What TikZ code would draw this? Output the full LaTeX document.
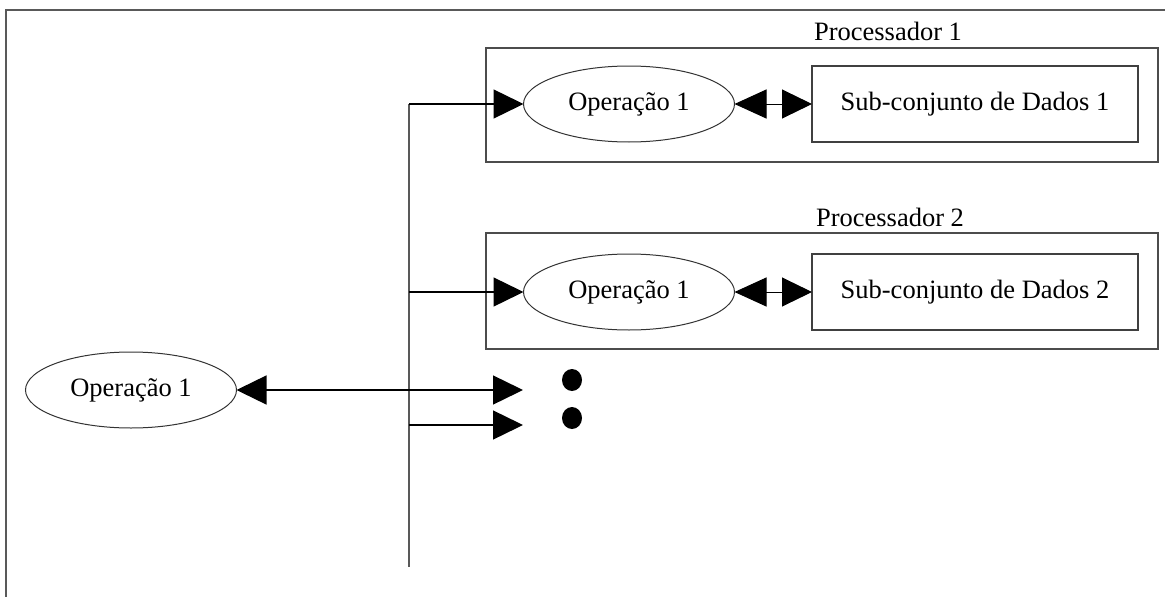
\documentclass[tikz,border=0pt]{standalone}
\usepackage{fontspec}
\setmainfont{Liberation Serif}
\usetikzlibrary{arrows.meta,shapes.geometric}

\tikzset{
  txt/.style={font=\fontsize{26.5}{30}\selectfont, text=black},
  opnode/.style={txt, draw=black!80, line width=1pt, ellipse, inner sep=0pt, outer sep=0pt,
                 minimum width=211pt, minimum height=76pt},
  databox/.style={txt, draw=black!75, line width=1.2pt, rectangle, inner sep=0pt, outer sep=0pt,
                  minimum width=326pt, minimum height=76pt},
  procbox/.style={draw=black!70, line width=1.2pt, rectangle, inner sep=0pt, outer sep=0pt,
                  minimum width=672pt},
  bus/.style={draw=black!65, line width=1.3pt},
  link/.style={draw=black, line width=1.4pt},
  tip/.style={-{Triangle[length=30pt,width=29pt]}},
  biarrow/.style={{Triangle[length=32pt,width=29pt]}-{Triangle[length=30pt,width=29pt]}},
  frameline/.style={draw=black!65, line width=1.3pt},
  dot/.style={fill=black, ellipse, inner sep=0pt, minimum width=20pt, minimum height=22pt}
}

\begin{document}
\begin{tikzpicture}[x=1pt,y=-1pt]
  \useasboundingbox (0,0) rectangle (1165,597);

  % outer frame (left and top edges)
  \draw[frameline] (6,597) -- (6,10) -- (1165,10);

  % processor enclosures
  \node[procbox, minimum height=114pt] (p1) at (822,105) {};
  \node[procbox, minimum height=116pt] (p2) at (822,291) {};
  \node[txt] (p1lbl) at (888,31) {Processador 1};
  \node[txt] (p2lbl) at (890,217) {Processador 2};

  % operations and data subsets
  \node[opnode] (op1) at (629,104) {Operação 1};
  \node[databox] (d1) at (975,104) {Sub-conjunto de Dados 1};
  \node[opnode] (op2) at (629,292) {Operação 1};
  \node[databox] (d2) at (975,292) {Sub-conjunto de Dados 2};
  \node[opnode] (op0) at (131,390) {Operação 1};

  % distribution bus
  \coordinate (bt) at (409,104);
  \coordinate (bb) at (409,567);
  \coordinate (b2) at (409,292);
  \coordinate (b3) at (409,390);
  \coordinate (b4) at (409,425);
  \coordinate (t3) at (523,390);
  \coordinate (t4) at (523,425);
  \draw[bus] (bt) -- (bb);

  % connectors
  \draw[link, tip] (bt) -- (op1.west);
  \draw[link, tip] (b2) -- (op2.west);
  \draw[link, tip] (b3) -- (t3);
  \draw[link, tip] (b4) -- (t4);
  \draw[link, tip] (b3) -- (op0.east);
  \draw[link, biarrow, line width=1pt] (op1.east) -- (d1.west);
  \draw[link, biarrow, line width=1pt] (op2.east) -- (d2.west);

  % continuation marks
  \node[dot] (dotA) at (572,380) {};
  \node[dot] (dotB) at (572,418) {};
\end{tikzpicture}
\end{document}
